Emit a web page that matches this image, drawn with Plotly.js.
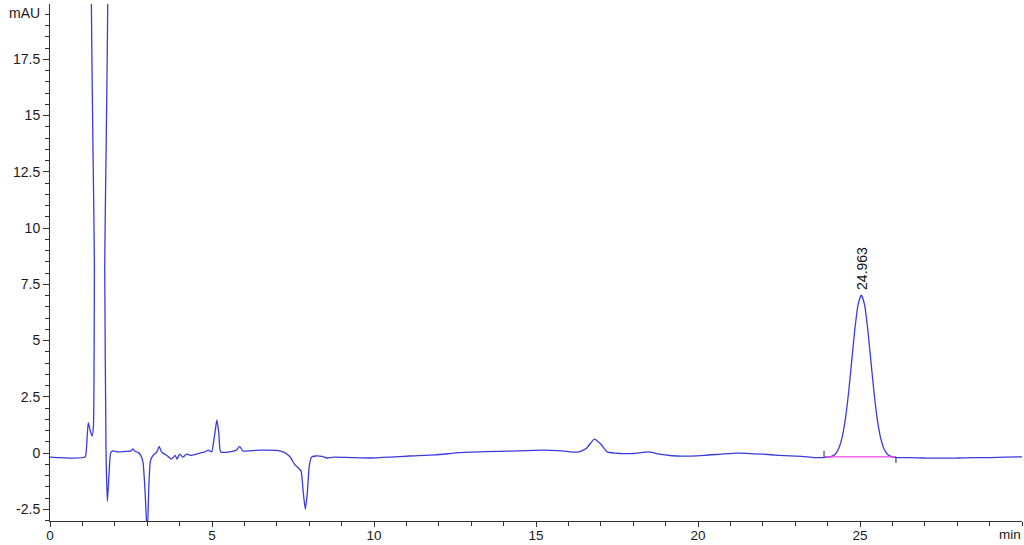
<!DOCTYPE html>
<html>
<head>
<meta charset="utf-8">
<script src="https://cdn.plot.ly/plotly-3.0.1.min.js"></script>
<style>
html,body{margin:0;padding:0;background:#fff;}
#chart{width:1024px;height:545px;}
</style>
</head>
<body>
<div id="chart"></div>
<script>
// Retention time (min) and absorbance (mAU)
var timeMin = [0, 1.08, 1.13, 1.18, 1.24, 1.30, 1.34, 1.37, 1.40, 1.66, 1.69, 1.73, 1.77, 1.82, 1.87, 1.93,
  2.1, 2.3, 2.5, 2.56, 2.62, 2.72, 2.80, 2.87, 2.93, 2.98, 3.01, 3.05, 3.10, 3.18, 3.30, 3.37, 3.44,
  3.6, 3.75, 3.86, 3.92, 4.0, 4.10, 4.21, 4.37, 4.63, 4.78, 4.88, 4.99, 5.05, 5.10, 5.15, 5.21, 5.27,
  5.55, 5.75, 5.85, 5.95, 6.5, 7.0, 7.2, 7.4, 7.55, 7.68, 7.75, 7.82, 7.88, 7.94, 8.00, 8.07,
  8.2, 8.4, 8.55, 8.75, 9.3, 9.9, 10.5, 11.1, 11.9, 12.65, 13.4, 14.2, 15.2, 15.8, 16.3, 16.55, 16.8,
  17.0, 17.2, 17.6, 18.0, 18.5, 18.8, 19.2, 19.5, 20.2, 21.2, 22.0, 22.5, 23.2, 23.6, 23.9,
  24.14, 24.24, 24.34, 24.44, 24.54, 24.64, 24.74, 24.84, 24.94, 25.04, 25.14, 25.24, 25.34, 25.44,
  25.54, 25.64, 25.74, 25.84, 25.94, 26.06, 26.5, 27.0, 28.0, 28.5, 29.0, 29.5, 30];
var signalMAU = [-0.18, -0.18, 0.3, 1.35, 1.0, 0.75, 1.2, 8, 30, 30, 8, 0, -2.15, -1.0, 0.0, 0.1,
  0.05, 0.07, 0.1, 0.18, 0.08, 0.03, -0.1, -0.4, -1.6, -3.0, -3.3, -1.5, -0.35, -0.1, 0.05, 0.3, 0.05,
  -0.1, -0.27, -0.1, -0.27, -0.05, -0.18, -0.05, -0.1, 0.0, 0.05, 0.13, 0.05, 0.5, 1.0, 1.47, 0.9, 0.05,
  0.05, 0.13, 0.3, 0.1, 0.13, 0.12, 0.05, -0.15, -0.5, -0.68, -0.8, -1.8, -2.5, -1.8, -0.6, -0.18,
  -0.13, -0.15, -0.22, -0.18, -0.2, -0.22, -0.18, -0.13, -0.08, 0.02, 0.06, 0.09, 0.13, 0.1, 0.04, 0.2, 0.62,
  0.4, 0.05, -0.02, -0.02, 0.05, -0.05, -0.12, -0.14, -0.1, 0.0, -0.05, -0.1, -0.15, -0.2, -0.2,
  -0.14, -0.04, 0.19, 0.65, 1.43, 2.59, 4.03, 5.49, 6.60, 7.02, 6.60, 5.49, 4.03, 2.59,
  1.43, 0.65, 0.19, -0.04, -0.14, -0.19, -0.2, -0.22, -0.22, -0.2, -0.2, -0.18, -0.17];

// Integration baseline of the labelled peak
var baselineT = [23.89, 26.11];
var baselineY = [-0.17, -0.17];
var peakLabelT = 25.04;
var peakLabelY = 7.02;
var peakLabel = "24.963";

var xTickVals = [0, 5, 10, 15, 20, 25];
var xTickText = ["0", "5", "10", "15", "20", "25"];
var yTickVals = [-2.5, 0, 2.5, 5, 7.5, 10, 12.5, 15, 17.5];
var yTickText = ["-2.5", "0", "2.5", "5", "7.5", "10", "12.5", "15", "17.5"];

var font = {family: "Liberation Sans, Arial, sans-serif", size: 14, color: "#1a1a1a"};
var xfont = {family: "Liberation Sans, Arial, sans-serif", size: 13.5, color: "#1a1a1a"};

var traces = [
  {x: timeMin, y: signalMAU, mode: "lines", type: "scatter",
   line: {color: "#3b3bdc", width: 1.3, shape: "spline", smoothing: 0.5}, hoverinfo: "x+y"},
  {x: baselineT, y: baselineY, mode: "lines", type: "scatter",
   line: {color: "#ee44ee", width: 1.2}, hoverinfo: "skip"}
];

var layout = {
  width: 1024, height: 545,
  margin: {l: 50, r: 2, t: 4, b: 24},
  paper_bgcolor: "#ffffff", plot_bgcolor: "#ffffff",
  showlegend: false,
  font: font,
  xaxis: {
    range: [0, 30], showgrid: false, zeroline: false,
    showline: true, linecolor: "#333", linewidth: 1,
    ticks: "outside", ticklen: 5, tickcolor: "#333",
    ticklabelstandoff: -3,
    tickvals: xTickVals, ticktext: xTickText, tickfont: xfont,
    minor: {dtick: 1, ticks: "outside", ticklen: 4, tickcolor: "#333", showgrid: false}
  },
  yaxis: {
    range: [-3.02, 19.96], showgrid: false, zeroline: false,
    showline: true, linecolor: "#333", linewidth: 1,
    ticks: "outside", ticklen: 6, tickcolor: "#333",
    tickvals: yTickVals, ticktext: yTickText, tickfont: font,
    minor: {dtick: 0.5, tick0: 0, ticks: "outside", ticklen: 4, tickcolor: "#333", showgrid: false}
  },
  shapes: [
    {type: "line", xref: "x", yref: "y", ysizemode: "pixel", yanchor: baselineY[0],
     x0: baselineT[0], x1: baselineT[0], y0: 0, y1: 6, line: {color: "#222", width: 1}},
    {type: "line", xref: "x", yref: "y", ysizemode: "pixel", yanchor: baselineY[1],
     x0: baselineT[1], x1: baselineT[1], y0: 0, y1: -6, line: {color: "#222", width: 1}}
  ],
  annotations: [
    {x: peakLabelT, y: peakLabelY, xref: "x", yref: "y", text: peakLabel, textangle: -90,
     showarrow: false, xanchor: "center", yanchor: "bottom", yshift: 3,
     font: {family: font.family, size: 14, color: "#111"}},
    {x: 0, y: 19.55, xref: "paper", yref: "y", text: "mAU", showarrow: false,
     xanchor: "right", yanchor: "middle", xshift: -8, font: font},
    {x: 1, y: 0, xref: "paper", yref: "paper", text: "min", showarrow: false,
     xanchor: "right", yanchor: "top", yshift: -4, xshift: 1, font: xfont}
  ]
};

Plotly.newPlot("chart", traces, layout, {displayModeBar: false, staticPlot: true});
</script>
</body>
</html>
